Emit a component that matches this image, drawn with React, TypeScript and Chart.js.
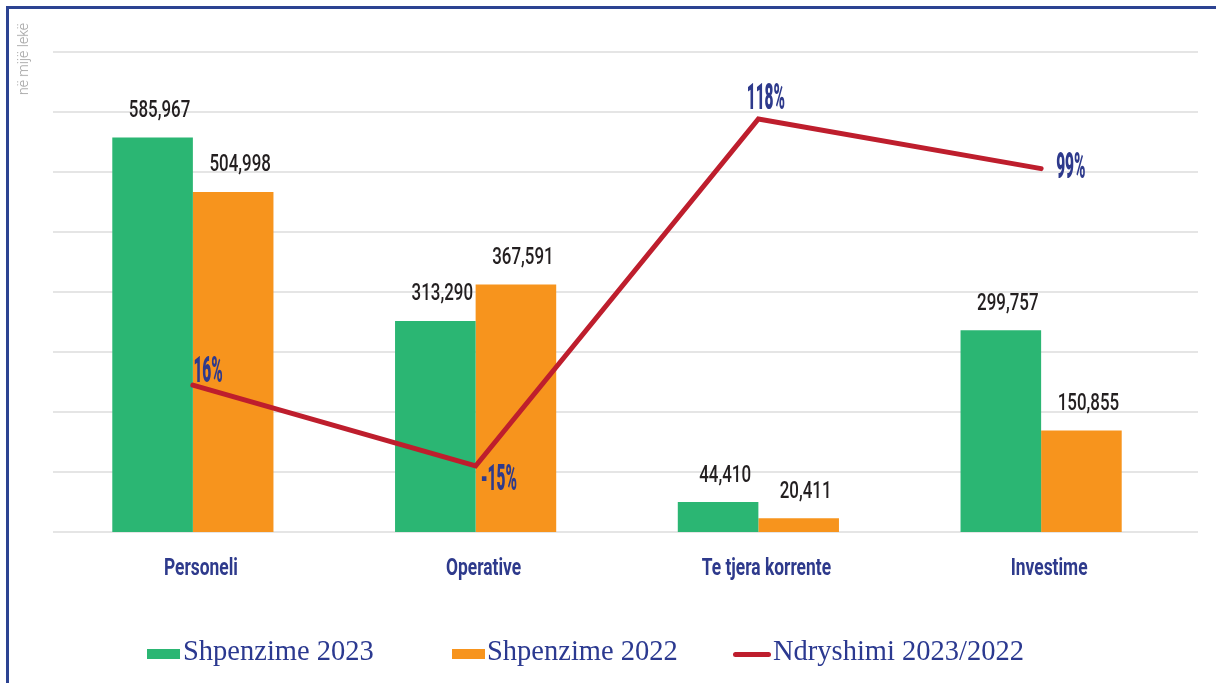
import React, { useEffect, useRef } from 'react';
import { Chart, registerables } from 'chart.js';

Chart.register(...registerables);

// ---------- data ----------
const categories = ['Personeli', 'Operative', 'Te tjera korrente', 'Investime'];
const spending2023 = [585967, 313290, 44410, 299757];
const spending2022 = [504998, 367591, 20411, 150855];
const changePct = [16, -15, 118, 99];
const seriesNames = ['Shpenzime 2023', 'Shpenzime 2022', 'Ndryshimi 2023/2022'];
const unitLabel = 'në mijë lekë';
// where each percentage label sits relative to its point
const pctPlacement = ['aboveRight', 'belowRight', 'above', 'right'];

// ---------- styles ----------
const GREEN = '#2BB673';
const ORANGE = '#F7941D';
const RED = '#BE1E2D';
const NAVY = '#2E3A8C';
const FRAME = '#2C4392';
const GRID = '#DCDCDC';

const fmt = (v: number) => v.toLocaleString('en-US');

function condensedText(
  ctx: CanvasRenderingContext2D,
  text: string,
  x: number,
  y: number,
  align: CanvasTextAlign,
  scaleX: number,
  font: string,
  color: string
) {
  ctx.save();
  ctx.font = font;
  ctx.fillStyle = color;
  ctx.textBaseline = 'alphabetic';
  ctx.textAlign = align;
  ctx.translate(x, y);
  ctx.scale(scaleX, 1);
  ctx.fillText(text, 0, 0);
  ctx.restore();
}

const gridPlugin = {
  id: 'extendedGrid',
  beforeDatasetsDraw(chart: any) {
    const { ctx, chartArea, scales } = chart;
    const y = scales.y;
    ctx.save();
    ctx.strokeStyle = GRID;
    ctx.lineWidth = 1.5;
    const ticks = y.ticks || [];
    ticks.forEach((t: any) => {
      const py = y.getPixelForValue(t.value);
      ctx.beginPath();
      ctx.moveTo(chartArea.left + 1.5, py);
      ctx.lineTo(chartArea.right + 15.5, py);
      ctx.stroke();
    });
    ctx.restore();
  },
};

const labelPlugin = {
  id: 'labels',
  afterDatasetsDraw(chart: any) {
    const { ctx, scales } = chart;
    // bar value labels
    [0, 1].forEach((di) => {
      const meta = chart.getDatasetMeta(di);
      const data = chart.data.datasets[di].data as number[];
      meta.data.forEach((el: any, i: number) => {
        condensedText(ctx, fmt(data[i]), el.x + 7, el.y - 20.6, 'center', 0.72, '500 23.5px Roboto', '#231F20');
      });
    });
    // percentage labels
    const lineMeta = chart.getDatasetMeta(2);
    lineMeta.data.forEach((el: any, i: number) => {
      const txt = `${changePct[i]}%`;
      const p = pctPlacement[i];
      let x = el.x, y = el.y, align: CanvasTextAlign = 'left';
      if (p === 'aboveRight') { x += 0.5; y -= 3.6; }
      else if (p === 'belowRight') { x += 5; y += 24; }
      else if (p === 'above') { x += 7.5; y -= 10; align = 'center'; }
      else { x += 15; y += 9; }
      condensedText(ctx, txt, x, y, align, 0.43, '900 36px Roboto', NAVY);
    });
    // category labels
    const xs = scales.x;
    categories.forEach((c, i) => {
      condensedText(ctx, c, xs.getPixelForValue(i) + 8, 575, 'center', 0.74, 'bold 23.5px Roboto', NAVY);
    });
  },
};

export default function App() {
  const canvasRef = useRef<HTMLCanvasElement | null>(null);

  useEffect(() => {
    if (!canvasRef.current) return;
    const chart = new Chart(canvasRef.current, {
      type: 'bar',
      data: {
        labels: categories,
        datasets: [
          {
            type: 'bar',
            label: seriesNames[0],
            data: spending2023,
            backgroundColor: GREEN,
            yAxisID: 'y',
            categoryPercentage: 0.57,
            barPercentage: 1,
            order: 1,
          },
          {
            type: 'bar',
            label: seriesNames[1],
            data: spending2022,
            backgroundColor: ORANGE,
            yAxisID: 'y',
            categoryPercentage: 0.57,
            barPercentage: 1,
            order: 1,
          },
          {
            type: 'line',
            label: seriesNames[2],
            data: changePct,
            borderColor: RED,
            backgroundColor: RED,
            borderWidth: 5,
            pointRadius: 0,
            tension: 0,
            borderCapStyle: 'round',
            borderJoinStyle: 'miter',
            yAxisID: 'y1',
            order: 0,
          } as any,
        ],
      },
      options: {
        responsive: false,
        animation: false,
        layout: { padding: { left: 51.5, right: 33.5, top: 52, bottom: 151 } },
        plugins: { legend: { display: false }, tooltip: { enabled: false } },
        scales: {
          x: { display: false, offset: true, grid: { display: false } },
          y: { display: false, min: 0, max: 713000, ticks: { stepSize: 89125 } },
          y1: { display: false, min: -40.3, max: 143.7 },
        },
      },
      plugins: [gridPlugin, labelPlugin],
    });
    return () => chart.destroy();
  }, []);

  const legendText: React.CSSProperties = {
    position: 'absolute',
    top: 637.3,
    fontFamily: '"Liberation Serif", "Times New Roman", serif',
    fontSize: 28.5,
    lineHeight: '28px',
    color: '#2B3990',
    whiteSpace: 'nowrap',
  };

  return (
    <div
      style={{
        position: 'absolute',
        left: 0,
        top: 0,
        width: 1216,
        height: 683,
        overflow: 'hidden',
        background: '#fff',
      }}
    >
      <div
        style={{
          position: 'absolute',
          left: 6,
          top: 6,
          width: 1400,
          height: 900,
          borderLeft: `3px solid ${FRAME}`,
          borderTop: `3px solid ${FRAME}`,
        }}
      />
      <canvas
        ref={canvasRef}
        width={1216}
        height={683}
        style={{ position: 'absolute', left: 0, top: 0, display: 'block' }}
      />
      <div
        style={{
          position: 'absolute',
          left: 22.5,
          top: 59,
          transform: 'translate(-50%, -50%) rotate(-90deg)',
          whiteSpace: 'nowrap',
          fontFamily: 'Roboto, sans-serif',
          fontWeight: 300,
          fontSize: 14,
          lineHeight: '14px',
          color: '#A0A0A0',
        }}
      >
        {unitLabel}
      </div>
      {/* legend */}
      <div style={{ position: 'absolute', left: 147, top: 649, width: 33, height: 10, background: GREEN }} />
      <div style={{ ...legendText, left: 183 }}>{seriesNames[0]}</div>
      <div style={{ position: 'absolute', left: 452, top: 649, width: 33, height: 10, background: ORANGE }} />
      <div style={{ ...legendText, left: 487 }}>{seriesNames[1]}</div>
      <div
        style={{
          position: 'absolute',
          left: 733,
          top: 651.8,
          width: 38,
          height: 5,
          borderRadius: 2.5,
          background: RED,
        }}
      />
      <div style={{ ...legendText, left: 773 }}>{seriesNames[2]}</div>
    </div>
  );
}
